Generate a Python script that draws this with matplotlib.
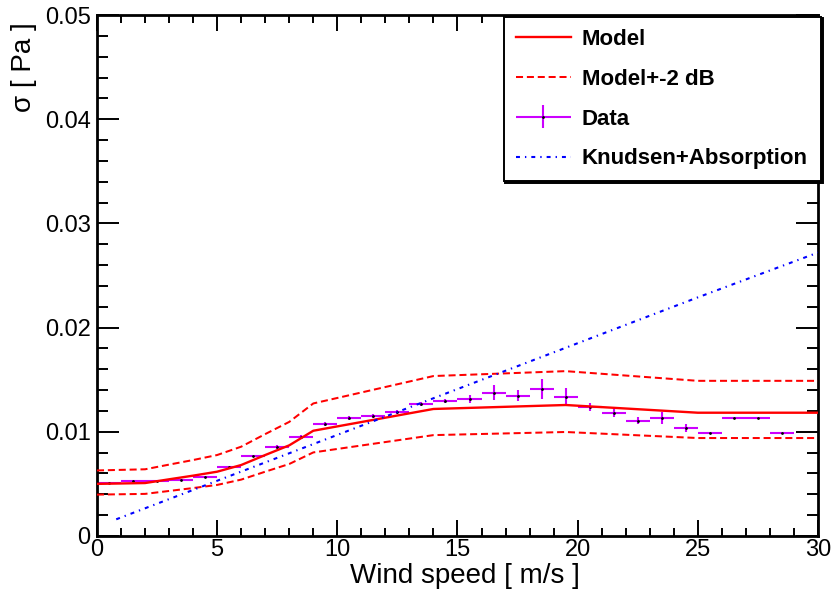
import matplotlib
matplotlib.use("Agg")
import matplotlib.pyplot as plt
from matplotlib.ticker import MultipleLocator
from matplotlib.legend_handler import HandlerErrorbar
import numpy as np

plt.rcParams['font.family'] = ['Liberation Sans', 'DejaVu Sans']

# Data: 1 m/s bins from 0 to 29
bin_lo = np.arange(0, 29)
data_sigma = [0.00505, 0.00531, 0.00531, 0.00537, 0.00569, 0.00662, 0.00768, 0.00854,
              0.00950, 0.01075, 0.01132, 0.01152, 0.01190, 0.01267, 0.01293, 0.01315,
              0.01375, 0.01344, 0.01411, 0.01337, 0.01241, 0.01180, 0.01107, 0.01130,
              0.01036, 0.00991, 0.01135, 0.01135, 0.00991]
data_err = [0.0001, 0.0001, 0.0001, 0.0001, 0.0001, 0.00012, 0.00012, 0.00015,
            0.00015, 0.00015, 0.00015, 0.00015, 0.00015, 0.0002, 0.0002, 0.0004,
            0.0007, 0.00053, 0.00093, 0.0008, 0.0004, 0.00038, 0.00035, 0.0006,
            0.0004, 0.0001, 0.0001, 0.0001, 0.0001]

# Model and +-2 dB band
model_x = [0, 2, 3, 4, 5, 6, 7, 8, 9, 14, 19.5, 25, 30]
model_y = [0.00500, 0.00508, 0.00544, 0.00579, 0.00617, 0.00681, 0.00777, 0.00870,
           0.01010, 0.01219, 0.01257, 0.01183, 0.01183]
model_up = [0.00629, 0.00640, 0.00685, 0.00729, 0.00777, 0.00857, 0.00978, 0.01095,
            0.01272, 0.01535, 0.01582, 0.01489, 0.01489]
model_lo = [0.00397, 0.00404, 0.00432, 0.00460, 0.00490, 0.00541, 0.00617, 0.00691,
            0.00802, 0.00968, 0.00998, 0.00940, 0.00940]

# Knudsen + absorption
knud_x = [0.8, 5, 10, 15, 20, 25, 30]
knud_y = [0.0016, 0.0053, 0.0097, 0.0141, 0.0185, 0.0229, 0.0272]

fig = plt.figure(figsize=(8.34, 5.91), dpi=100)
ax = fig.add_axes([0.1163, 0.0931, 0.8645, 0.8815])

centers = bin_lo + 0.5
h_data = ax.errorbar(centers, data_sigma, xerr=0.5, yerr=data_err, fmt='.',
                     color='#cc00ff', ecolor='#cc00ff', elinewidth=1.5,
                     ms=2, mfc='black', mec='black', capsize=0, zorder=2)
h_model, = ax.plot(model_x, model_y, color='red', lw=1.7, zorder=3)
h_band, = ax.plot(model_x, model_up, color='red', lw=1.45, ls=(0, (3.5, 1.9)), zorder=3)
ax.plot(model_x, model_lo, color='red', lw=1.45, ls=(0, (3.5, 1.9)), zorder=3)
h_knud, = ax.plot(knud_x, knud_y, color='blue', lw=1.5,
                  ls=(0, (1.9, 2.4, 0.65, 2.4)), zorder=3)

ax.set_xlim(0, 30)
ax.set_ylim(0, 0.05)
ax.xaxis.set_minor_locator(MultipleLocator(1))
ax.yaxis.set_minor_locator(MultipleLocator(0.002))
ax.set_yticks([0, 0.01, 0.02, 0.03, 0.04, 0.05], ['0', '0.01', '0.02', '0.03', '0.04', '0.05'])
ax.set_xticks([0, 5, 10, 15, 20, 25, 30], ['0', '5', '10', '15', '20', '25', '30'])

ax.tick_params(which='both', direction='in', top=True, right=True, width=1.4, labelsize=17)
ax.tick_params(axis='x', which='major', length=11.5, pad=2)
ax.tick_params(axis='x', which='minor', length=5.8)
ax.tick_params(axis='y', which='major', length=16, pad=4.5)
ax.tick_params(axis='y', which='minor', length=8)
for s in ax.spines.values():
    s.set_linewidth(2)

ax.set_xlabel('Wind speed [ m/s ]', fontsize=20)
ax.xaxis.set_label_coords(0.51, -0.052)
ax.set_ylabel('σ [ Pa ]', fontsize=20, loc='top')
ax.yaxis.set_label_coords(-0.083, 0.987)

leg = fig.legend([h_model, h_band, h_data, h_knud],
                 ['Model', 'Model+-2 dB', 'Data', 'Knudsen+Absorption'],
                 loc='upper left', bbox_to_anchor=(0.604, 0.697, 0.381, 0.2747),
                 mode='expand', borderaxespad=0, fancybox=False, framealpha=1,
                 edgecolor='black', prop={'weight': 'bold', 'size': 16},
                 handlelength=2.48, handletextpad=0.5, labelspacing=0.85,
                 borderpad=0.54,
                 handler_map={h_data: HandlerErrorbar(xerr_size=1.24, yerr_size=0.52)},
                 shadow={'color': 'black', 'alpha': 1, 'ox': 1.2, 'oy': -1.2})
leg.get_frame().set_linewidth(1.4)

fig.savefig('out.png', dpi=100)
